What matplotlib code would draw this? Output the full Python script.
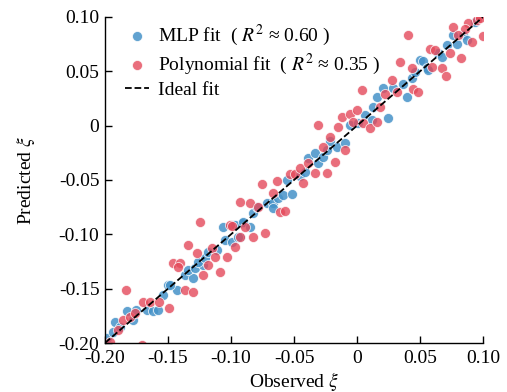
import matplotlib
matplotlib.use("Agg")
import matplotlib.pyplot as plt
import numpy as np
from matplotlib.ticker import FuncFormatter

plt.rcParams['font.family'] = ['Liberation Serif', 'DejaVu Sans']
plt.rcParams['mathtext.fontset'] = 'stix'

# MLP fit: observed / predicted
mlp_obs = [-0.198, -0.194, -0.192, -0.188, -0.1825, -0.178, -0.175, -0.167, -0.162, -0.158,
           -0.154, -0.150, -0.143, -0.1484, -0.1365, -0.1299, -0.1339, -0.1286, -0.1220, -0.1260,
           -0.1206, -0.1180, -0.1114, -0.1061, -0.0982, -0.0915, -0.1048, -0.0994, -0.0929, -0.0942,
           -0.0968, -0.0902, -0.0849, -0.0823, -0.0796, -0.0717, -0.0664, -0.0664, -0.0625, -0.0585,
           -0.0558, -0.0518, -0.0452, -0.0413, -0.0387, -0.0307, -0.0333, -0.0267, -0.0240, -0.0214,
           -0.0161, -0.0095, -0.0056, 0.0010, 0.0063, 0.0117, 0.0129, 0.0248, 0.0156, 0.0209,
           0.0288, 0.0367, 0.0394, 0.0434, 0.0460, 0.0500, 0.0526, 0.0553, 0.0566, 0.0645,
           0.0672, 0.0712, 0.0791, 0.0764, 0.0843, 0.0871, 0.0937]
mlp_pred = [-0.195, -0.190, -0.181, -0.185, -0.171, -0.179, -0.170, -0.170, -0.171, -0.170,
            -0.156, -0.147, -0.151, -0.1466, -0.1374, -0.1405, -0.1328, -0.1312, -0.1282, -0.1252,
            -0.1220, -0.1160, -0.1144, -0.0930, -0.0914, -0.0898, -0.1052, -0.1068, -0.1022, -0.1022,
            -0.0914, -0.0884, -0.0935, -0.0801, -0.0746, -0.0714, -0.0714, -0.0760, -0.0668, -0.0638,
            -0.0500, -0.0629, -0.0463, -0.0424, -0.0300, -0.0346, -0.0254, -0.0286, -0.0224, -0.0138,
            -0.0194, -0.0162, 0.0006, 0.0022, 0.0098, 0.0052, 0.0175, 0.0073, 0.0267, 0.0344,
            0.0344, 0.0381, 0.0267, 0.0436, 0.0497, 0.0604, 0.0595, 0.0528, 0.0512, 0.0666,
            0.0635, 0.0742, 0.0749, 0.0834, 0.0834, 0.0788, 0.0957]

# Polynomial fit: observed / predicted
poly_obs = [-0.196, -0.190, -0.186, -0.180, -0.176, -0.171, -0.183, -0.170, -0.164, -0.157,
            -0.149, -0.1365, -0.1299, -0.1458, -0.1405, -0.1418, -0.1246, -0.1339, -0.1272, -0.1153,
            -0.1127, -0.1034, -0.1180, -0.1087, -0.1220, -0.1008, -0.0968, -0.0929, -0.0849, -0.0756,
            -0.0637, -0.0532, -0.0492, -0.0452, -0.0387, -0.0426, -0.0664, -0.0783, -0.0611, -0.0571,
            -0.0994, -0.0889, -0.0929, -0.0823, -0.0730, -0.0307, -0.0148, -0.0121, -0.0056, -0.0002,
            0.0050, 0.0103, -0.0029, -0.0214, -0.0267, -0.0095, -0.0175, -0.0333, -0.0240, 0.0037,
            0.0407, 0.0579, 0.0619, 0.0341, 0.0434, 0.0593, 0.0275, 0.0447, 0.0487, 0.0222,
            0.0315, 0.0183, 0.0156, 0.0764, 0.0883, 0.0950, 0.0976, 0.0857, 0.1000, 0.0802,
            0.0910, 0.0738, 0.0825, 0.0672, 0.0704]
poly_pred = [-0.199, -0.188, -0.179, -0.176, -0.172, -0.202, -0.151, -0.162, -0.162, -0.162,
             -0.168, -0.1512, -0.1528, -0.1261, -0.1261, -0.1298, -0.0884, -0.1098, -0.1174, -0.1128,
             -0.1206, -0.1206, -0.1282, -0.1344, -0.1374, -0.0914, -0.1114, -0.0700, -0.0714, -0.0540,
             -0.0506, -0.0448, -0.0448, -0.0392, -0.0346, -0.0530, -0.0622, -0.0746, -0.0792, -0.0782,
             -0.0923, -0.0935, -0.1027, -0.1022, -0.0990, 0.0006, -0.0015, 0.0083, 0.0107, 0.0144,
             0.0022, -0.0024, 0.0037, -0.0101, -0.0194, -0.0224, -0.0332, -0.0438, -0.0433, 0.0328,
             0.0834, 0.0706, 0.0696, 0.0583, 0.0533, 0.0543, 0.0420, 0.0337, 0.0313, 0.0289,
             0.0313, 0.0175, 0.0031, 0.0911, 0.0948, 0.0972, 0.0988, 0.0887, 0.0825, 0.0834,
             0.0773, 0.0666, 0.0620, 0.0533, 0.0457]

lims = [-0.20, 0.10]
ticks = [-0.20, -0.15, -0.10, -0.05, 0, 0.05, 0.10]

fig = plt.figure(figsize=(5.07, 3.92), dpi=100)
ax = fig.add_axes([0.207, 0.125, 0.746, 0.832])

ax.scatter(mlp_obs, mlp_pred, s=52, color='#4592c8', alpha=0.85, edgecolors='white',
           linewidths=0.6, label=r'MLP fit  ( $R^2$ ≈ 0.60 )', zorder=2)
ax.scatter(poly_obs, poly_pred, s=52, color='#e44a5b', alpha=0.8, edgecolors='white',
           linewidths=0.6, label=r'Polynomial fit  ( $R^2$ ≈ 0.35 )', zorder=2)
ax.plot(lims, lims, color='black', linestyle='--', linewidth=1.3, label='Ideal fit', zorder=3)

ax.set_xlim(lims)
ax.set_ylim(lims)
ax.set_xticks(ticks)
ax.set_yticks(ticks)
fmt = FuncFormatter(lambda v, p: '0' if abs(v) < 1e-9 else '%.2f' % v)
ax.xaxis.set_major_formatter(fmt)
ax.yaxis.set_major_formatter(fmt)
ax.tick_params(direction='in', length=5, width=1, labelsize=14)
ax.tick_params(axis='x', pad=5)
ax.tick_params(axis='y', pad=4)

ax.spines['top'].set_visible(False)
ax.spines['right'].set_visible(False)
ax.spines['left'].set_linewidth(1)
ax.spines['bottom'].set_linewidth(1)

ax.set_xlabel(r'Observed $\xi$', fontsize=14)
ax.set_ylabel(r'Predicted $\xi$', fontsize=14)
ax.xaxis.set_label_coords(0.5, -0.083)
ax.yaxis.set_label_coords(-0.18, 0.5)

ax.legend(loc='upper left', bbox_to_anchor=(0.032, 1.005), frameon=False, fontsize=14,
          handlelength=1.25, handletextpad=0.45, labelspacing=0.2, borderaxespad=0)

fig.savefig('out.png', dpi=100)
